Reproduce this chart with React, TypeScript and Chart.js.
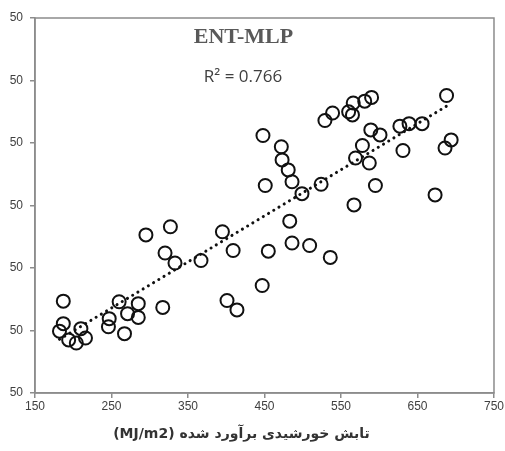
import React, { useEffect, useRef } from 'react';
import { Chart, registerables } from 'chart.js';

Chart.register(...registerables);

// Estimated (x) values
const xValues = [
  448, 472, 473, 481, 486, 499, 451, 524, 567, 529,
  539, 560, 565, 566, 581, 590, 688, 589, 601, 578,
  569, 587, 595, 627, 639, 656, 631, 686, 694, 673,
  295, 327, 395, 409, 455, 320, 333, 367, 447, 401,
  414, 483, 486, 509, 536, 187, 187, 182, 194, 204,
  210, 216, 247, 246, 260, 271, 285, 285, 267, 317,
];
const yValues = [
  562, 544, 523, 507, 488, 469, 482, 484, 451, 586,
  598, 600, 595, 614, 617, 623, 626, 571, 563, 546,
  526, 518, 482, 577, 581, 581, 538, 542, 555, 467,
  403, 416, 408, 378, 377, 374, 358, 362, 322, 298,
  283, 425, 390, 386, 367, 297, 261, 249, 235, 230,
  253, 238, 269, 256, 296, 277, 293, 271, 245, 287,
];

const xTicks = [150, 250, 350, 450, 550, 650, 750];
const yTicks = [150, 250, 350, 450, 550, 650, 750];
const yTickLabels = ['50', '50', '50', '50', '50', '50', '50'];

const chartTitle = 'ENT-MLP';
const r2Label = 'R² = 0.766';
const xAxisTitle = 'تابش خورشیدی برآورد شده (MJ/m2)';

function linearFit(xs: number[], ys: number[]) {
  const n = xs.length;
  let sx = 0, sy = 0, sxx = 0, sxy = 0;
  for (let i = 0; i < n; i++) {
    sx += xs[i]; sy += ys[i]; sxx += xs[i] * xs[i]; sxy += xs[i] * ys[i];
  }
  const b = (n * sxy - sx * sy) / (n * sxx - sx * sx);
  const a = (sy - b * sx) / n;
  return { a, b };
}

export default function App() {
  const ref = useRef<HTMLCanvasElement>(null);

  useEffect(() => {
    if (!ref.current) return;
    const points = xValues.map((x, i) => ({ x, y: yValues[i] }));
    const { a, b } = linearFit(xValues, yValues);
    const xmin = Math.min(...xValues);
    const xmax = Math.max(...xValues);
    const trend = [
      { x: xmin, y: a + b * xmin },
      { x: xmax, y: a + b * xmax },
    ];

    const axisGray = '#8c8c8c';

    const overlay = {
      id: 'overlay',
      afterDraw(chart: any) {
        const { ctx, chartArea: ca } = chart;
        ctx.save();
        ctx.strokeStyle = axisGray;
        ctx.lineWidth = 1.5;
        ctx.strokeRect(ca.left, ca.top, ca.right - ca.left, ca.bottom - ca.top);

        ctx.textAlign = 'center';
        ctx.textBaseline = 'middle';
        ctx.fillStyle = '#595959';
        ctx.font = 'bold 22px "Liberation Serif", "Times New Roman", serif';
        ctx.fillText(chartTitle, ca.left + 208.5, ca.top + 19);

        ctx.fillStyle = '#404040';
        ctx.font = '17px "Open Sans", sans-serif';
        ctx.fillText(r2Label, ca.left + 208, ca.top + 59);

        ctx.fillStyle = '#333333';
        ctx.font = 'bold 14px "DejaVu Sans", sans-serif';
        (ctx as any).direction = 'rtl';
        ctx.fillText(xAxisTitle, ca.left + 206.5, ca.bottom + 41);
        ctx.restore();
      },
    };

    const chart = new Chart(ref.current, {
      type: 'scatter',
      data: {
        datasets: [
          {
            data: points,
            pointStyle: 'circle',
            pointRadius: 6.5,
            pointBorderWidth: 2,
            borderColor: '#111111',
            backgroundColor: 'rgba(0,0,0,0)',
            pointBackgroundColor: 'rgba(0,0,0,0)',
            pointBorderColor: '#111111',
          },
          {
            data: trend,
            showLine: true,
            pointRadius: 0,
            borderColor: '#111111',
            borderWidth: 3,
            borderDash: [0.1, 6],
            borderCapStyle: 'round',
          } as any,
        ],
      },
      options: {
        animation: false,
        responsive: false,
        layout: { padding: { top: 18, right: 11, left: 0, bottom: 0 } },
        plugins: { legend: { display: false }, tooltip: { enabled: false } },
        scales: {
          x: {
            type: 'linear',
            min: 150,
            max: 750,
            afterBuildTicks: (scale: any) => {
              scale.ticks = xTicks.map((v) => ({ value: v }));
            },
            afterFit: (scale: any) => { scale.height = 58; },
            ticks: {
              color: '#404040',
              font: { family: '"Liberation Sans", sans-serif', size: 12 },
              padding: 1,
              maxRotation: 0,
              callback: (v: any) => String(v),
            },
            grid: {
              drawOnChartArea: false,
              drawTicks: true,
              tickLength: 5,
              color: axisGray,
              lineWidth: 1.5,
            },
            border: { display: true, color: axisGray, width: 1.5 },
          },
          y: {
            type: 'linear',
            min: 150,
            max: 750,
            afterBuildTicks: (scale: any) => {
              scale.ticks = yTicks.map((v) => ({ value: v }));
            },
            afterFit: (scale: any) => { scale.width = 35; },
            ticks: {
              color: '#404040',
              font: { family: '"Liberation Sans", sans-serif', size: 12 },
              padding: 7,
              callback: (_v: any, i: number) => yTickLabels[i],
            },
            grid: {
              drawOnChartArea: false,
              drawTicks: true,
              tickLength: 5,
              color: axisGray,
              lineWidth: 1.5,
            },
            border: { display: true, color: axisGray, width: 1.5 },
          },
        },
      },
      plugins: [overlay],
    });

    return () => chart.destroy();
  }, []);

  return (
    <div style={{ position: 'absolute', left: 0, top: 0, width: 505, height: 451, background: '#fff' }}>
      <canvas ref={ref} width={505} height={451} />
    </div>
  );
}
